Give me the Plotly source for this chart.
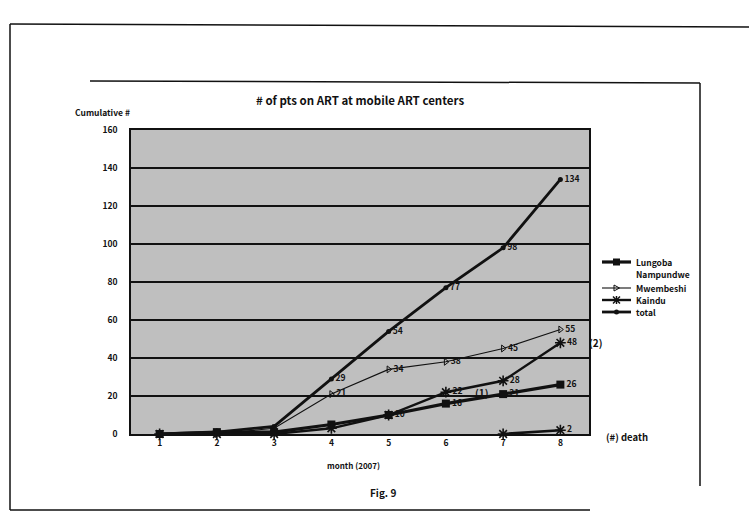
import plotly.graph_objects as go

# Cumulative number of patients on ART per mobile centre, by month of 2007
months = [1, 2, 3, 4, 5, 6, 7, 8]
lungoba = [0, 1, 1, 5, 10, 16, 21, 26]
nampundwe = [None, None, None, None, None, None, 0, 2]
mwembeshi = [0, 0, 3, 21, 34, 38, 45, 55]
kaindu = [0, 0, 0, 3, 10, 22, 28, 48]
total = [0, 1, 4, 29, 54, 77, 98, 134]

# months whose point values are printed beside each series
label_months = {
    "Lungoba": [5, 6, 7, 8],
    "Nampundwe": [8],
    "Mwembeshi": [4, 5, 6, 7, 8],
    "Kaindu": [6, 7, 8],
    "total": [4, 5, 6, 7, 8],
}

# deaths noted next to Kaindu points: (month, count)
death_month = [6, 8]
death_count = [1, 2]

y_ticks = [0, 20, 40, 60, 80, 100, 120, 140, 160]
legend_names = ["Lungoba", "Nampundwe", "Mwembeshi", "Kaindu", "total"]

W, H = 749, 518
L, R, T, B = 131, 589, 130, 434  # plot area in pixels

FONT = "Noto Sans CJK JP"
BLK = "#111111"


def px(x):
    return (x - L) / (R - L)


def py(y):
    return (B - y) / (B - T)


def labels(name, vals):
    keep = label_months[name]
    return [str(v) if (v is not None and m in keep) else "" for m, v in zip(months, vals)]


styles = {
    "Lungoba": (dict(symbol="square", size=8, color=BLK), 3.2),
    "Nampundwe": (dict(symbol="asterisk-open", size=9, color=BLK,
                       line=dict(width=1.6, color=BLK)), 2.6),
    "Mwembeshi": (dict(symbol="triangle-right-open", size=6, color=BLK,
                       line=dict(width=1, color=BLK)), 1.1),
    "Kaindu": (dict(symbol="asterisk-open", size=9, color=BLK,
                    line=dict(width=1.6, color=BLK)), 2.4),
    "total": (dict(symbol="circle", size=5, color=BLK), 2.8),
}
values = {"Lungoba": lungoba, "Nampundwe": nampundwe, "Mwembeshi": mwembeshi,
          "Kaindu": kaindu, "total": total}

fig = go.Figure()
for name in legend_names:
    marker, lw = styles[name]
    vals = values[name]
    fig.add_trace(go.Scatter(
        x=months, y=vals, name=name, mode="lines+markers+text",
        line=dict(color=BLK, width=lw), marker=marker,
        text=labels(name, vals), textposition="middle right",
        textfont=dict(family=FONT, size=8.5, color=BLK, weight="bold"),
        connectgaps=False, cliponaxis=False, showlegend=False,
    ))

for m, c in zip(death_month, death_count):
    v = kaindu[months.index(m)]
    fig.add_annotation(x=m, y=v, xref="x", yref="y", text=f"({c})",
                       showarrow=False, xanchor="left", xshift=27,
                       font=dict(family=FONT, size=10, color=BLK, weight="bold"))

ann = [
    ("# of pts on ART at mobile ART centers", 360, 100, 11.5, "center"),
    ("Cumulative #", 73, 112, 8.5, "left"),
    ("month (2007)", 353, 465, 8, "center"),
    ("(#) death", 604, 437, 9.5, "left"),
    ("Fig. 9", 383, 492, 10, "center"),
]
for t, x, y, s, a in ann:
    fig.add_annotation(x=px(x), y=py(y), xref="paper", yref="paper", text=t,
                       showarrow=False, xanchor=a, yanchor="middle",
                       font=dict(family=FONT, size=s, color=BLK, weight="bold"))


def seg(x0, y0, x1, y1, w):
    fig.add_shape(type="line", xref="paper", yref="paper",
                  x0=px(x0), y0=py(y0), x1=px(x1), y1=py(y1),
                  line=dict(color=BLK, width=w))


# page frames around the figure
for x0, y0, x1, y1 in [(10, 24, 749, 27), (10, 24, 10, 510), (10, 510, 590, 510),
                       (90, 81, 700, 83), (700, 83, 700, 486)]:
    seg(x0, y0, x1, y1, 1.5)

# compact legend drawn beside the plot: key line, symbol and name per row
leg_x0, leg_x1, leg_tx = 602, 631, 634
leg_rows = {"Lungoba": 262, "Nampundwe": 274, "Mwembeshi": 288, "Kaindu": 300, "total": 312}
for name in legend_names:
    yy = leg_rows[name]
    fig.add_annotation(x=px(leg_tx), y=py(yy), xref="paper", yref="paper", text=name,
                       showarrow=False, xanchor="left", yanchor="middle",
                       font=dict(family=FONT, size=8.5, color=BLK, weight="bold"))
    if name == "Nampundwe":
        continue
    marker, lw = styles[name]
    seg(leg_x0, yy, leg_x1, yy, lw)
    cx = (leg_x0 + leg_x1) / 2
    sym = marker["symbol"]
    if sym == "square":
        fig.add_shape(type="rect", xref="paper", yref="paper",
                      x0=px(cx - 3.5), x1=px(cx + 3.5), y0=py(yy + 3.5), y1=py(yy - 3.5),
                      fillcolor=BLK, line=dict(width=0))
    elif sym == "circle":
        fig.add_shape(type="circle", xref="paper", yref="paper",
                      x0=px(cx - 2.5), x1=px(cx + 2.5), y0=py(yy + 2.5), y1=py(yy - 2.5),
                      fillcolor=BLK, line=dict(width=0))
    elif sym == "asterisk-open":
        for dx, dy in [(0, 4), (3.5, 3.5), (-3.5, 3.5), (4, 0)]:
            seg(cx - dx, yy - dy, cx + dx, yy + dy, 1.5)
    else:
        fig.add_shape(type="path", xref="paper", yref="paper",
                      path=f"M {px(cx - 2.5)} {py(yy - 3)} L {px(cx + 3)} {py(yy)} "
                           f"L {px(cx - 2.5)} {py(yy + 3)} Z",
                      line=dict(color=BLK, width=1))

fig.update_layout(
    width=W, height=H,
    margin=dict(l=L, r=W - R, t=T, b=H - B, pad=0),
    paper_bgcolor="white", plot_bgcolor="#bfbfbf",
    showlegend=False,
    font=dict(family=FONT, color=BLK),
)
fig.update_xaxes(range=[0.5, 8.5], tickvals=months, ticks="", showgrid=False,
                 zeroline=False, showline=True, linecolor=BLK, linewidth=1.5,
                 mirror=True, tickfont=dict(family=FONT, size=8.5, color=BLK, weight="bold"))
fig.update_yaxes(range=[0, 160], tickvals=y_ticks, ticks="", showgrid=True,
                 gridcolor=BLK, gridwidth=1.6, zeroline=False, showline=True,
                 linecolor=BLK, linewidth=1.5, mirror=True, ticklabelstandoff=10,
                 tickfont=dict(family=FONT, size=8.5, color=BLK, weight="bold"))

fig.write_html("out.html")
